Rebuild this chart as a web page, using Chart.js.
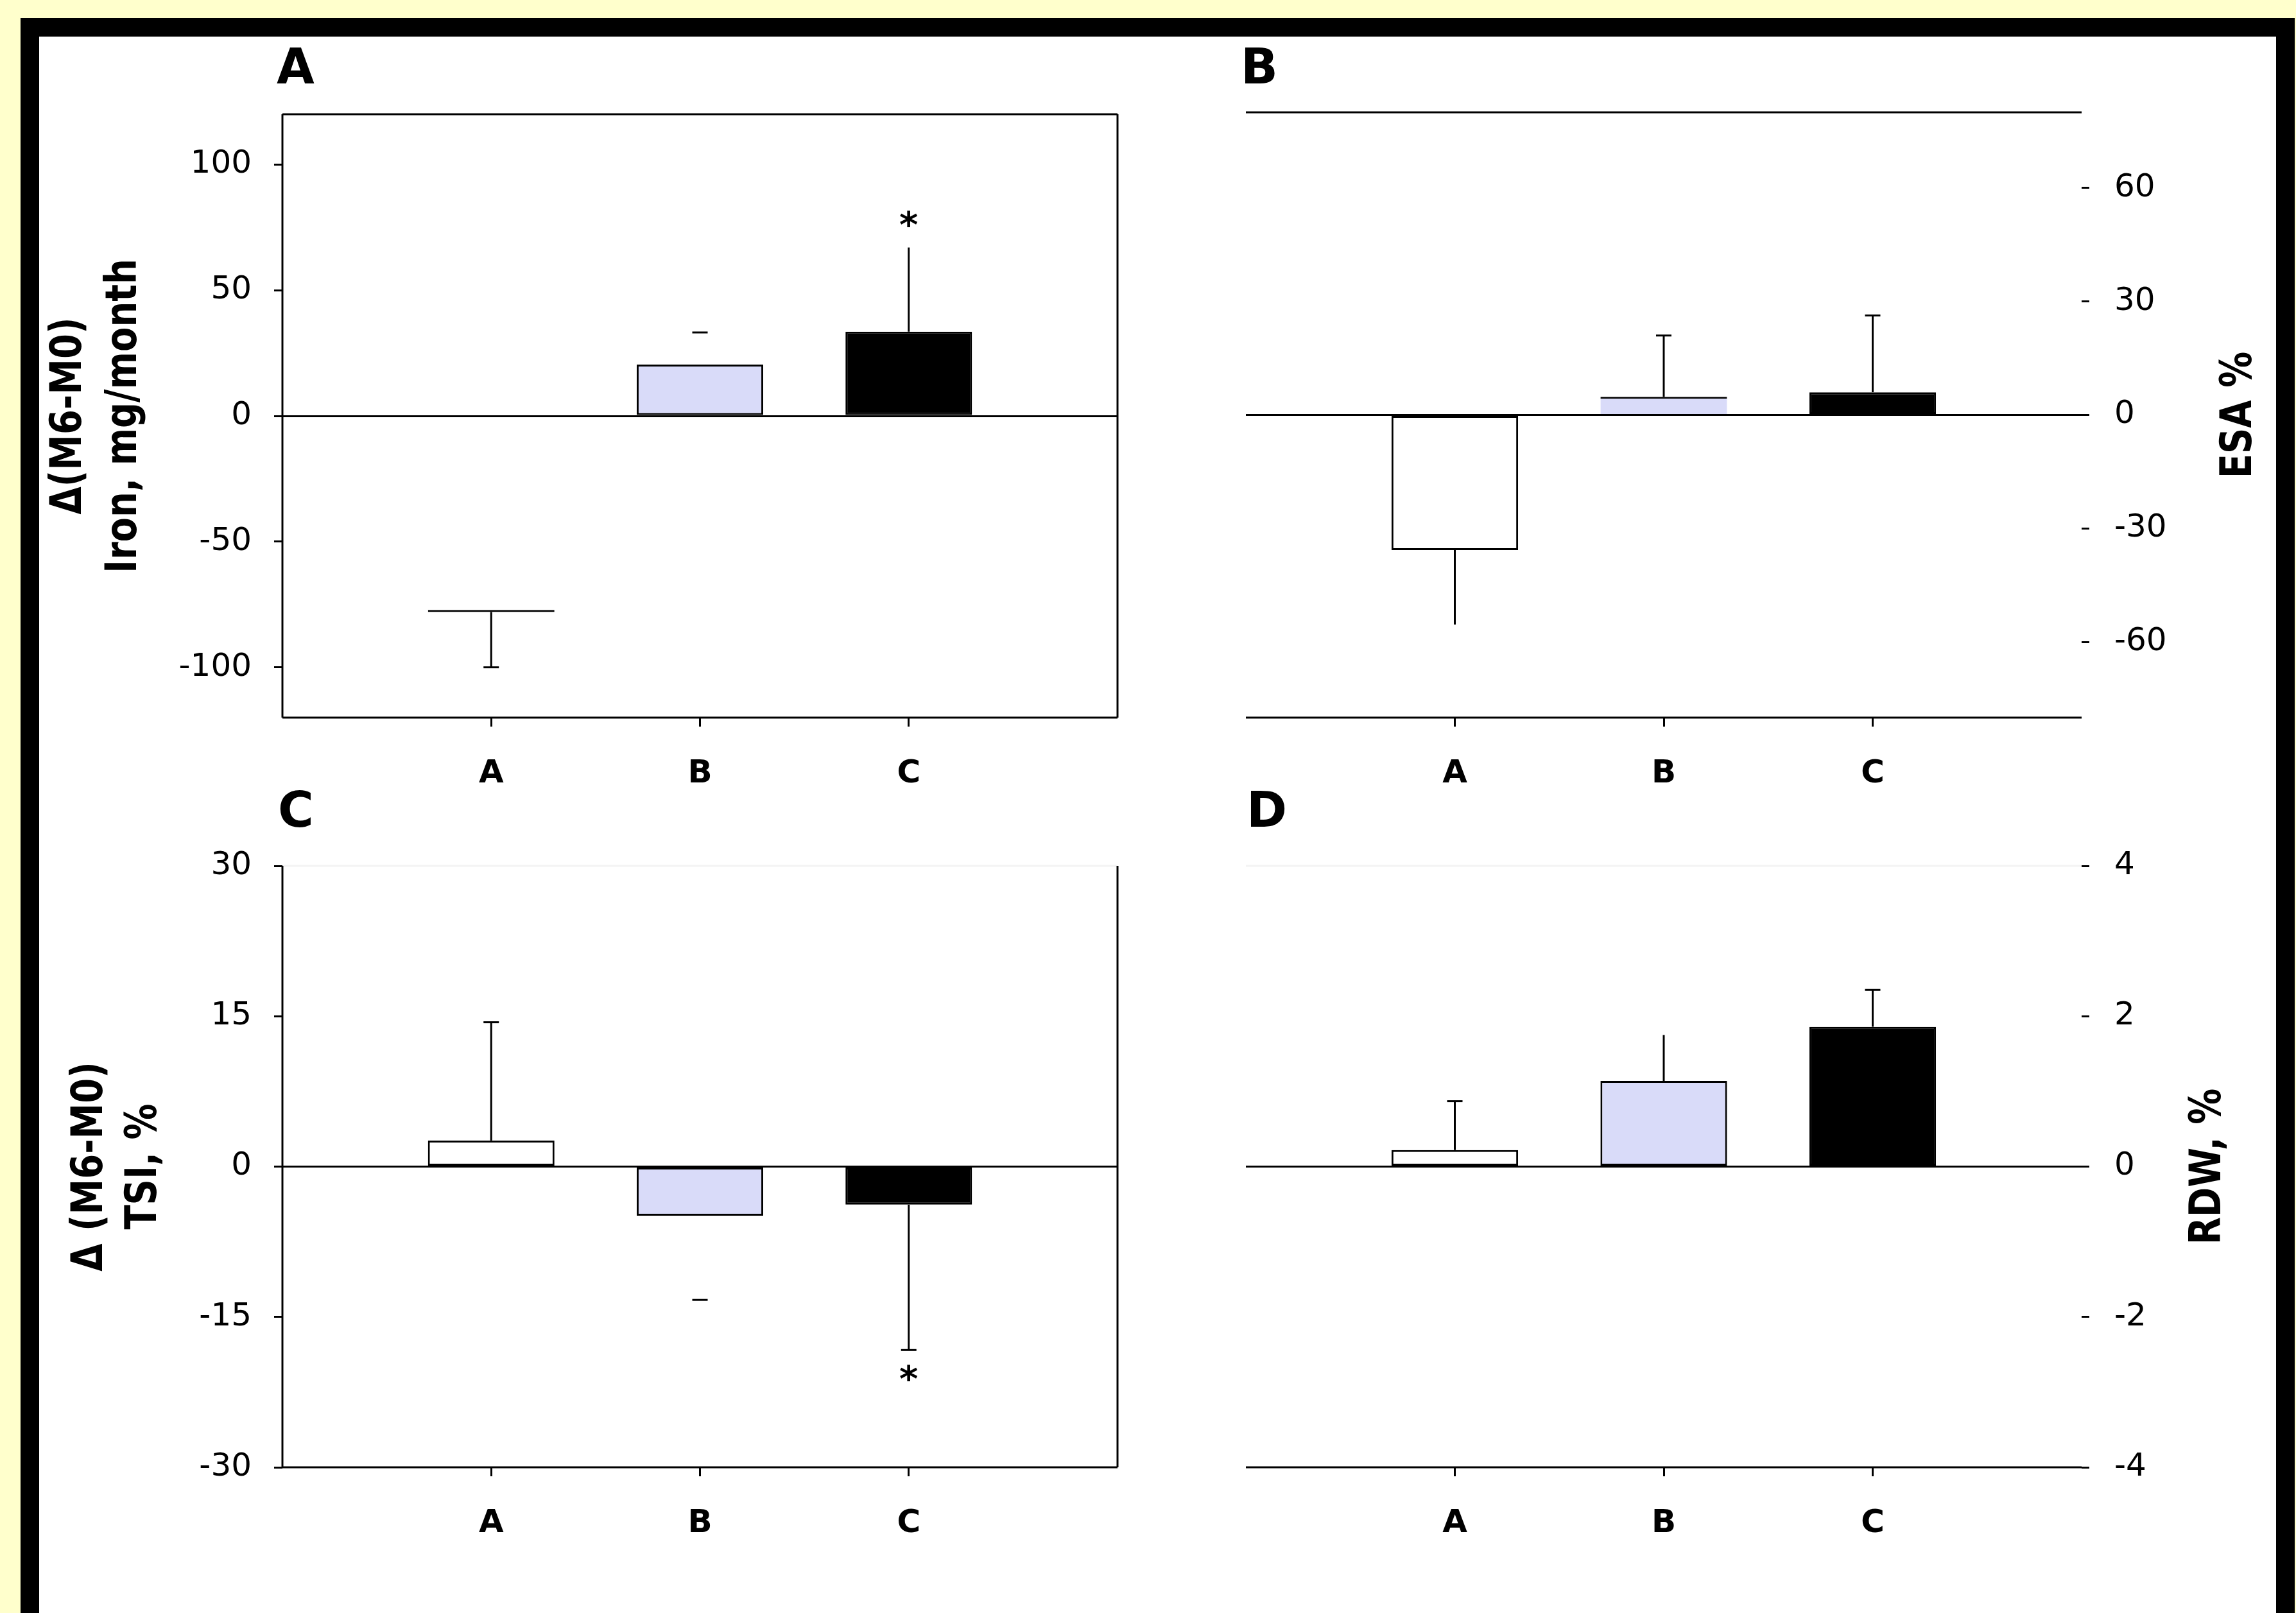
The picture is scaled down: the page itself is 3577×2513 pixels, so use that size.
<!DOCTYPE html>
<html>
<head>
<meta charset="utf-8">
<script src="https://cdn.jsdelivr.net/npm/chart.js@4.4.0/dist/chart.umd.min.js"></script>
<style>
    html, body { margin: 0; padding: 0; }
    body { width: 3577px; height: 2513px; background: #FFFFCC; position: relative; overflow: hidden; }
    #frame { position: absolute; left: 32px; top: 28px; width: 3543px; height: 2600px; border: 29px solid #000; box-sizing: border-box; background: #fff; }
    canvas { position: absolute; }
    .letter { position: absolute; font-family: 'DejaVu Sans'; font-weight: bold; font-size: 76px; line-height: 1; color: #000; }
</style>
</head>
<body>
<div id="frame"></div>
<canvas id="panelA" width="1741" height="1233" style="left:61px; top:57px"></canvas>
<canvas id="panelB" width="1744" height="1233" style="left:1802px; top:57px"></canvas>
<canvas id="panelC" width="1741" height="1223" style="left:61px; top:1290px"></canvas>
<canvas id="panelD" width="1744" height="1223" style="left:1802px; top:1290px"></canvas>
<div class="letter" style="left:431px; top:66px">A</div>
<div class="letter" style="left:1933px; top:66px">B</div>
<div class="letter" style="left:433px; top:1224px">C</div>
<div class="letter" style="left:1942px; top:1224px">D</div>
<script>
const groups = ['A', 'B', 'C'];
const barFill = ['#FFFFFF', '#D9DBF9', '#000000'];

// panel A: iron
const ironMean = [-78, 20.4, 33.5];
const ironErr = [22, 12.8, 33.5];
const ironTicks = [-100, -50, 0, 50, 100];
// panel B: ESA
const esaMean = [-35.7, 4.8, 6.0];
const esaErr = [19.7, 16.2, 20.3];
const esaTicks = [-60, -30, 0, 30, 60];
// panel C: TSI
const tsiMean = [2.6, -4.9, -3.8];
const tsiErr = [11.8, 8.4, 14.5];
const tsiTicks = [-30, -15, 0, 15, 30];
// panel D: RDW
const rdwMean = [0.22, 1.14, 1.86];
const rdwErr = [0.65, 0.61, 0.49];
const rdwTicks = [-4, -2, 0, 2, 4];

const LINE = 3;
const tickFont = { family: 'DejaVu Sans', size: 50 };
const catFont = { family: 'DejaVu Sans', size: 50, weight: 'bold' };
const titleFont = "bold 56px 'DejaVu Sans'";

// error bars, stars, border lines and axis titles drawn on top of the bars
const extrasPlugin = {
    id: 'extras',
    afterDatasetsDraw(chart, args, opts) {
        const ctx = chart.ctx;
        const xs = chart.scales.x;
        const ys = chart.scales.y;
        const area = chart.chartArea;
        ctx.save();
        ctx.strokeStyle = '#000';
        ctx.lineWidth = LINE;

        opts.mean.forEach((v, i) => {
            const dir = v < 0 ? -1 : 1;
            const x = xs.getPixelForValue(i + 1);
            const y0 = ys.getPixelForValue(v);
            const y1 = ys.getPixelForValue(v + dir * opts.err[i]);
            if (opts.stem[i]) {
                ctx.beginPath();
                ctx.moveTo(x, y0);
                ctx.lineTo(x, y1);
                ctx.stroke();
            }
            if (opts.cap[i]) {
                ctx.beginPath();
                ctx.moveTo(x - 12, y1);
                ctx.lineTo(x + 12, y1);
                ctx.stroke();
            }
            if (opts.star[i]) {
                ctx.fillStyle = '#000';
                ctx.font = "bold 56px 'DejaVu Sans'";
                ctx.textAlign = 'center';
                ctx.textBaseline = 'middle';
                ctx.fillText(opts.star[i], x, y1 - dir * 40 + 9);
            }
        });

        const edges = opts.edges;
        const line = (color, x1, y1, x2, y2) => {
            ctx.strokeStyle = color;
            ctx.beginPath();
            ctx.moveTo(x1, y1);
            ctx.lineTo(x2, y2);
            ctx.stroke();
        };
        if (edges.top) line(edges.top, area.left, area.top, area.right, area.top);
        if (edges.bottom) line(edges.bottom, area.left, area.bottom, area.right, area.bottom);
        if (edges.left) line(edges.left, area.left, area.top, area.left, area.bottom);
        if (edges.right) line(edges.right, area.right, area.top, area.right, area.bottom);

        // axis titles, rotated to read bottom to top
        ctx.fillStyle = '#000';
        ctx.font = titleFont;
        ctx.textAlign = 'center';
        ctx.textBaseline = 'middle';
        const midY = (area.top + area.bottom) / 2;
        opts.titles.forEach(t => {
            const x = (opts.side === 'left' ? area.left : area.right) + t.dx;
            ctx.save();
            ctx.translate(x, midY);
            ctx.rotate(-Math.PI / 2);
            ctx.scale(1, 1.2);
            ctx.fillText(t.text, 0, 0);
            ctx.restore();
        });
        ctx.restore();
    }
};

function makePanel(id, cfg) {
    const isLeft = cfg.side === 'left';
    return new Chart(document.getElementById(id), {
        type: 'bar',
        data: {
            datasets: [{
                data: cfg.mean.map((v, i) => ({ x: i + 1, y: v })),
                backgroundColor: cfg.fill || barFill,
                borderColor: '#000',
                borderWidth: cfg.borders,
                borderSkipped: false,
                categoryPercentage: 1,
                barPercentage: 0.606
            }]
        },
        options: {
            responsive: false,
            animation: false,
            events: [],
            layout: { padding: cfg.padding },
            plugins: {
                legend: { display: false },
                tooltip: { enabled: false },
                extras: {
                    mean: cfg.mean, err: cfg.err, stem: cfg.stem, cap: cfg.cap,
                    star: cfg.star, edges: cfg.edges, titles: cfg.titles, side: cfg.side
                }
            },
            scales: {
                x: {
                    type: 'linear',
                    min: 0,
                    max: 4,
                    offset: false,
                    afterBuildTicks: s => { s.ticks = groups.map((g, i) => ({ value: i + 1 })); },
                    afterFit: s => { s.height = 172; },
                    ticks: {
                        callback: v => groups[v - 1] || '',
                        font: catFont,
                        color: '#000',
                        padding: 44,
                        maxRotation: 0,
                        autoSkip: false
                    },
                    grid: { offset: false, drawOnChartArea: false, tickLength: 14, tickColor: '#000', tickWidth: LINE },
                    border: { display: false }
                },
                y: {
                    position: cfg.side,
                    min: cfg.min,
                    max: cfg.max,
                    afterBuildTicks: s => { s.ticks = cfg.ticks.map(v => ({ value: v })); },
                    afterFit: s => {
                        s.width = cfg.axisWidth;
                        s.paddingTop = 0;
                        s.paddingBottom = 0;
                    },
                    ticks: {
                        font: tickFont,
                        color: '#000',
                        padding: isLeft ? 35 : 39
                    },
                    grid: {
                        color: c => (c.tick && c.tick.value === 0 ? '#000' : 'rgba(0,0,0,0)'),
                        lineWidth: LINE,
                        tickLength: isLeft ? 13 : 12,
                        tickColor: '#000',
                        tickWidth: LINE
                    },
                    border: { display: false }
                }
            }
        },
        plugins: [extrasPlugin]
    });
}

const full = { top: 3, right: 3, bottom: 3, left: 3 };

makePanel('panelA', {
    side: 'left', mean: ironMean, err: ironErr, min: -120, max: 120, ticks: ironTicks,
    stem: [true, false, true], cap: [true, true, false], star: ['', '', '*'],
    borders: [{ top: 0, right: 0, bottom: 3, left: 0 }, full, full],
    fill: ['rgba(0,0,0,0)', '#D9DBF9', '#000000'],
    edges: { top: '#000', right: '#000', bottom: '#000', left: '#000' },
    titles: [{ text: '\u0394(M6-M0)', dx: -331 }, { text: 'Iron, mg/month', dx: -245 }],
    axisWidth: 379, padding: { top: 121, left: 0, right: 61, bottom: 0 }
});

makePanel('panelB', {
    side: 'right', mean: esaMean, err: esaErr, min: -80, max: 80, ticks: esaTicks,
    stem: [true, true, true], cap: [false, true, true], star: ['', '', ''],
    borders: [full, { top: 3, right: 0, bottom: 0, left: 0 }, full],
    edges: { top: '#000', bottom: '#000' },
    titles: [{ text: 'ESA %', dx: 247 }],
    axisWidth: 303, padding: { top: 118, left: 139, right: 0, bottom: 0 }
});

makePanel('panelC', {
    side: 'left', mean: tsiMean, err: tsiErr, min: -30, max: 30, ticks: tsiTicks,
    stem: [true, false, true], cap: [true, true, true], star: ['', '', '*'],
    borders: [full, full, full],
    edges: { top: '#f4f4f4', right: '#000', bottom: '#000', left: '#000' },
    titles: [{ text: '\u0394 (M6-M0)', dx: -298 }, { text: 'TSI, %', dx: -214 }],
    axisWidth: 379, padding: { top: 59, left: 0, right: 61, bottom: 55 }
});

makePanel('panelD', {
    side: 'right', mean: rdwMean, err: rdwErr, min: -4, max: 4, ticks: rdwTicks,
    stem: [true, true, true], cap: [true, false, true], star: ['', '', ''],
    borders: [full, full, full],
    edges: { top: '#f4f4f4', bottom: '#000' },
    titles: [{ text: 'RDW, %', dx: 199 }],
    axisWidth: 303, padding: { top: 59, left: 139, right: 0, bottom: 55 }
});
</script>
</body>
</html>
